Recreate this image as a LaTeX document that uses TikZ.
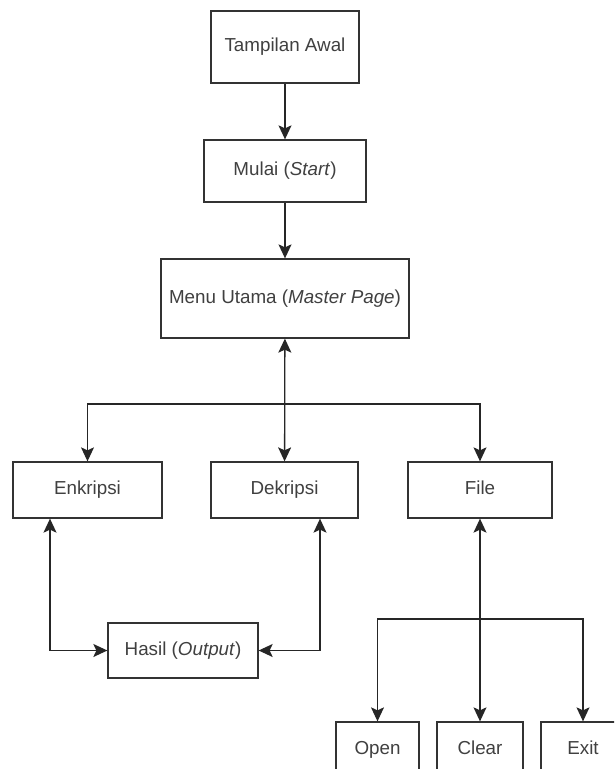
\documentclass[tikz,border=0pt]{standalone}
\usepackage{fontspec}
\setmainfont{Liberation Sans}
\usetikzlibrary{arrows.meta}
\begin{document}
\begin{tikzpicture}[x=1pt, y=-1pt,
    box/.style={draw=black!80, line width=1.3pt, fill=white, inner sep=0pt,
      text=black!75, text height=13.5pt, text depth=4pt,
      font=\fontsize{18.8}{22}\selectfont},
    link/.style={line width=1.3pt, draw=black!85, -{Stealth[length=14pt, width=13pt, inset=3pt]}},
    dlink/.style={line width=1.3pt, draw=black!85,
      {Stealth[length=14pt, width=13pt, inset=3pt]}-{Stealth[length=14pt, width=13pt, inset=3pt]}}]
      \clip (0,0) rectangle (614,769);
      \fill[white] (0,0) rectangle (614,769);

      \node[box, minimum width=148pt, minimum height=72pt] (awal) at (285,47) {Tampilan Awal};
      \node[box, minimum width=162pt, minimum height=62pt] (mulai) at (285,171) {Mulai (\textit{Start})};
      \node[box, minimum width=248pt, minimum height=79pt] (menu) at (285,298.5) {Menu Utama (\textit{Master Page})};

      \node[box, minimum width=149pt, minimum height=56pt] (enkripsi) at (87.5,490) {Enkripsi};
      \node[box, minimum width=147pt, minimum height=56pt] (dekripsi) at (284.5,490) {Dekripsi};
      \node[box, minimum width=144pt, minimum height=56pt] (file) at (480,490) {File};
      \node[box, minimum width=150pt, minimum height=55pt] (hasil) at (183,650.5) {Hasil (\textit{Output})};

      \node[box, minimum width=83pt, minimum height=56pt] (open) at (377.5,750) {Open};
      \node[box, minimum width=86pt, minimum height=56pt] (clear) at (480,750) {Clear};
      \node[box, minimum width=84pt, minimum height=56pt] (exit) at (583,750) {Exit};

      \coordinate (split) at (285,404);
      \coordinate (subsplit) at (480,619);

      \draw[link] (awal) -- (mulai);
      \draw[link] (mulai) -- (menu);
      \draw[dlink] (menu) -- (dekripsi);
      \draw[link] (split) -| (enkripsi.north);
      \draw[link] (split) -| (file.north);

      \draw[dlink] ([xshift=-37.5pt]enkripsi.south) |- (hasil.west);
      \draw[dlink] ([xshift=35.5pt]dekripsi.south) |- (hasil.east);

      \draw[dlink] (file) -- (clear);
      \draw[link] (subsplit) -| (open.north);
      \draw[link] (subsplit) -| (exit.north);
    \end{tikzpicture}
\end{document}
